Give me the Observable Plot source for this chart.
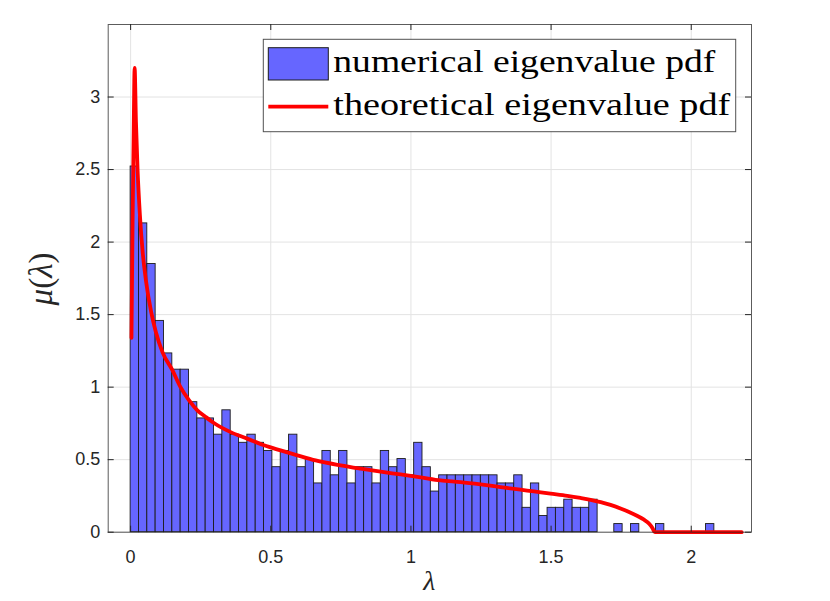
<!DOCTYPE html>
<html>
<head>
<meta charset="utf-8">
<script src="https://cdn.jsdelivr.net/npm/d3@7"></script>
<script src="https://cdn.jsdelivr.net/npm/@observablehq/plot@0.6"></script>
<style>
  html, body { margin: 0; padding: 0; background: #ffffff; }
  #chart { width: 830px; height: 601px; }
</style>
</head>
<body>
<div id="chart"></div>
<script>
// ---- data ----
const binWidth = 0.02975;      // histogram bin width (first bin starts at 0)
const sampleCount = 600;       // number of eigenvalues (pdf normalisation)
const binCounts = [
  45, 38, 33, 26, 22, 20, 20, 16, 14, 14,
  12, 15, 12, 11, 12, 11, 10,  8, 10, 12,
   8,  9,  6, 10,  7, 10,  6,  8,  8,  6,
  10,  8,  9,  7, 11,  8,  5,  7,  7,  7,
   7,  7,  7,  7,  6,  6,  7,  3,  6,  2,
   3,  3,  4,  3,  3,  4,  0,  0,  1,  0,
   1,  0,  0,  1,  0,  0,  0,  0,  0,  1
];
const curveX = [0.003, 0.007, 0.0107, 0.0143, 0.019, 0.025, 0.033, 0.043, 0.055, 0.073,
  0.090, 0.114, 0.149, 0.178, 0.208, 0.238, 0.268, 0.297, 0.357, 0.416,
  0.476, 0.535, 0.595, 0.66, 0.749, 0.821, 0.892, 0.963, 1.035, 1.106,
  1.177, 1.249, 1.320, 1.391, 1.439, 1.498, 1.558, 1.605, 1.641, 1.677,
  1.712, 1.75, 1.78, 1.81, 1.83, 1.85, 1.862, 1.87, 2.18];
const curveY = [1.34, 2.14, 2.72, 3.20, 2.83, 2.49, 2.19, 1.93, 1.73, 1.52,
  1.38, 1.24, 1.117, 1.0, 0.91, 0.84, 0.794, 0.753, 0.69, 0.645,
  0.599, 0.564, 0.530, 0.495, 0.461, 0.438, 0.417, 0.398, 0.378, 0.357,
  0.345, 0.329, 0.311, 0.293, 0.281, 0.266, 0.251, 0.236, 0.223, 0.207,
  0.188, 0.162, 0.138, 0.11, 0.088, 0.058, 0.028, 0.0, 0.0];
const xTicks = [0, 0.5, 1, 1.5, 2];
const xTickLabels = ["0", "0.5", "1", "1.5", "2"];
const yTicks = [0, 0.5, 1, 1.5, 2, 2.5, 3];
const yTickLabels = ["0", "0.5", "1", "1.5", "2", "2.5", "3"];
const legendLabels = ["numerical eigenvalue pdf", "theoretical eigenvalue pdf"];
const xLabel = "λ";

// ---- derived tables ----
const bars = binCounts
  .map((c, i) => ({x1: i * binWidth, x2: (i + 1) * binWidth, y: c / (sampleCount * binWidth)}))
  .filter(d => d.y > 0);
const curve = curveX.map((x, i) => ({x, y: curveY[i]}));

const W = 830, H = 601;
const mL = 107.7, mR = 79, mT = 24, mB = 69.3;
const innerW = W - mL - mR, innerH = H - mT - mB;
const tickLen = 6;
const axisColor = "#262626";
const gridColor = "#e3e3e3";

const chart = Plot.plot({
  width: W,
  height: H,
  marginLeft: mL, marginRight: mR, marginTop: mT, marginBottom: mB,
  style: {fontFamily: "'Liberation Sans', Arial, sans-serif", fontSize: "18px", color: axisColor, background: "#ffffff"},
  x: {domain: [-0.08, 2.215]},
  y: {domain: [0, 3.5]},
  marks: [
    Plot.ruleX(xTicks, {stroke: gridColor, strokeWidth: 1}),
    Plot.ruleY(yTicks, {stroke: gridColor, strokeWidth: 1}),
    Plot.rect(bars, {x1: "x1", x2: "x2", y1: 0, y2: "y", fill: "#6666ff", stroke: "#1c1c1c", strokeWidth: 0.9}),
    Plot.line(curve, {x: "x", y: "y", stroke: "#ff0000", strokeWidth: 3.8, curve: "monotone-x", strokeLinejoin: "round", strokeLinecap: "round"}),
    // inward ticks on all four sides
    Plot.ruleX(xTicks, {stroke: axisColor, strokeWidth: 1, insetTop: innerH - tickLen}),
    Plot.ruleX(xTicks, {stroke: axisColor, strokeWidth: 1, insetBottom: innerH - tickLen}),
    Plot.ruleY(yTicks, {stroke: axisColor, strokeWidth: 1, insetRight: innerW - tickLen}),
    Plot.ruleY(yTicks, {stroke: axisColor, strokeWidth: 1, insetLeft: innerW - tickLen}),
    Plot.frame({stroke: axisColor, strokeWidth: 1, strokeOpacity: 0.75}),
    Plot.axisX(xTicks, {tickSize: 0, tickPadding: 18, tickFormat: (d, i) => xTickLabels[i], label: null, fontSize: 18}),
    Plot.axisY(yTicks, {tickSize: 0, tickPadding: 8, tickFormat: (d, i) => yTickLabels[i], label: null, fontSize: 18})
  ]
});

const svg = d3.select(chart);
const serif = "'Liberation Serif', 'Times New Roman', serif";

// y label  μ(λ)
const yl = svg.append("text")
  .attr("transform", "translate(52,279) rotate(-90)")
  .attr("text-anchor", "middle")
  .attr("font-family", serif)
  .attr("font-size", 33)
  .attr("fill", axisColor);
yl.append("tspan").attr("font-style", "italic").text("μ");
yl.append("tspan").text("(");
yl.append("tspan").attr("font-style", "italic").text("λ");
yl.append("tspan").text(")");

// x label λ
svg.append("text")
  .attr("x", mL + innerW / 2)
  .attr("y", 590)
  .attr("text-anchor", "middle")
  .attr("font-family", serif)
  .attr("font-style", "italic")
  .attr("font-size", 28)
  .attr("fill", axisColor)
  .text(xLabel);

// legend
const lg = svg.append("g").attr("text-anchor", "start");
lg.append("rect")
  .attr("x", 263.3).attr("y", 39.3).attr("width", 472.4).attr("height", 92.4)
  .attr("fill", "#ffffff").attr("stroke", axisColor).attr("stroke-opacity", 0.8).attr("stroke-width", 1);
lg.append("rect")
  .attr("x", 268.3).attr("y", 47.7).attr("width", 60).attr("height", 32.3)
  .attr("fill", "#6666ff").attr("stroke", "#1c1c1c").attr("stroke-width", 1);
lg.append("line")
  .attr("x1", 268.3).attr("x2", 328.3).attr("y1", 106.7).attr("y2", 106.7)
  .attr("stroke", "#ff0000").attr("stroke-width", 3.8);
lg.append("text")
  .attr("x", 333.3).attr("y", 71.7)
  .attr("text-anchor", "start")
  .attr("font-family", serif).attr("font-size", 31).attr("fill", "#000")
  .attr("textLength", 382).attr("lengthAdjust", "spacingAndGlyphs")
  .text(legendLabels[0]);
lg.append("text")
  .attr("x", 333.3).attr("y", 115)
  .attr("text-anchor", "start")
  .attr("font-family", serif).attr("font-size", 31).attr("fill", "#000")
  .attr("textLength", 397).attr("lengthAdjust", "spacingAndGlyphs")
  .text(legendLabels[1]);

document.getElementById("chart").appendChild(chart);
</script>
</body>
</html>
